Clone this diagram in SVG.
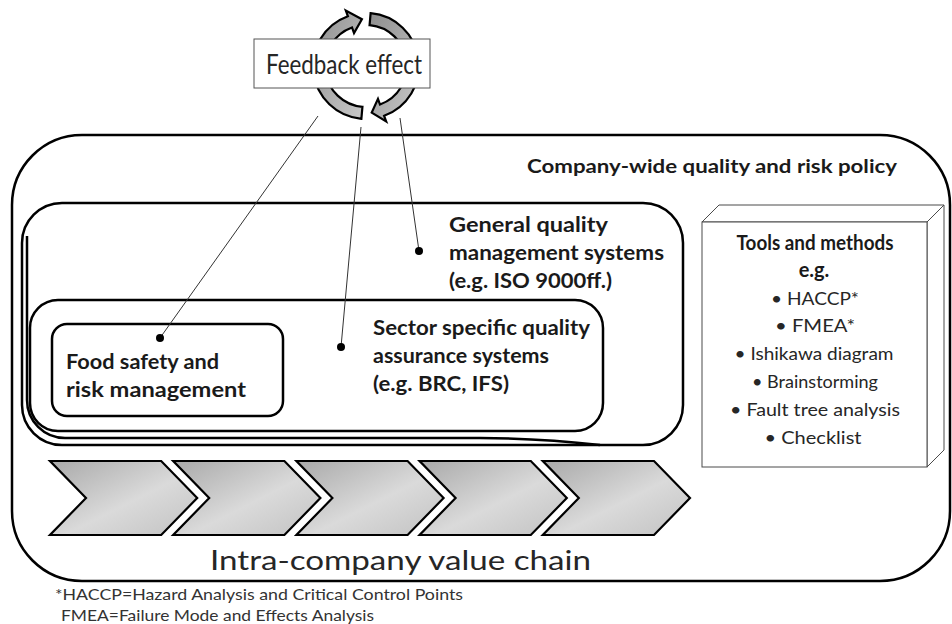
<svg xmlns="http://www.w3.org/2000/svg" width="952" height="624" viewBox="0 0 952 624">
  <defs>
    <linearGradient id="chevFill" x1="0" y1="0" x2="1" y2="1">
      <stop offset="0" stop-color="#a9a9a9"/>
      <stop offset="0.55" stop-color="#dadada"/>
      <stop offset="1" stop-color="#c2c2c2"/>
    </linearGradient>
    <linearGradient id="cycleFill" x1="0" y1="0" x2="1" y2="1">
      <stop offset="0" stop-color="#8e8e8e"/>
      <stop offset="1" stop-color="#c9c9c9"/>
    </linearGradient>
    <style>
      .frame { fill: none; stroke: #000; stroke-width: 2.5; }
      .inner { fill: #fff; stroke: #000; stroke-width: 2.5; }
      .chev { fill: url(#chevFill); stroke: #000; stroke-width: 2.2; stroke-linejoin: miter; }
      .cycle { fill: url(#cycleFill); stroke: #000; stroke-width: 2.2; stroke-linejoin: miter; }
      .box3d { fill: #fff; stroke: #4a4a4a; stroke-width: 1; }
      .link { fill: none; stroke: #333; stroke-width: 1; }
      .dot { fill: #000; }
      text { font-family: Lato, "Liberation Sans", sans-serif; fill: #1a1a1a; }
      .b { font-weight: bold; }
      .head { font-size: 20px; font-weight: bold; }
      .item { font-size: 18px; fill: #262626; }
      .big { font-size: 26px; fill: #262626; }
      .note { font-size: 15px; fill: #333; }
    </style>
  </defs>

  <!-- company-wide frame -->
  <g id="company">
    <rect class="frame" x="12" y="135" width="938" height="446" rx="70" ry="70"/>
    <text class="b" x="527" y="173" font-size="19" textLength="370" lengthAdjust="spacingAndGlyphs">Company-wide quality and risk policy</text>
  </g>

  <!-- general quality management systems -->
  <g id="general">
    <rect class="inner" x="22" y="203" width="661" height="242" rx="40" ry="40"/>
    <path class="frame" d="M27 236 L27 400 A38 38 0 0 0 65 438 L480 438 Q540 438 600 445"/>
    <text class="head" x="449" y="232" textLength="159" lengthAdjust="spacingAndGlyphs">General quality</text>
    <text class="head" x="449" y="260" textLength="215" lengthAdjust="spacingAndGlyphs">management systems</text>
    <text class="head" x="449" y="288" textLength="163" lengthAdjust="spacingAndGlyphs">(e.g. ISO 9000ff.)</text>
  </g>

  <!-- sector specific quality assurance systems -->
  <g id="sector">
    <rect class="inner" x="30" y="300" width="573" height="131" rx="28" ry="28"/>
    <text class="head" x="373" y="335" textLength="217" lengthAdjust="spacingAndGlyphs">Sector specific quality</text>
    <text class="head" x="373" y="363" textLength="176" lengthAdjust="spacingAndGlyphs">assurance systems</text>
    <text class="head" x="373" y="391" textLength="136" lengthAdjust="spacingAndGlyphs">(e.g. BRC, IFS)</text>
  </g>

  <!-- food safety and risk management -->
  <g id="food">
    <rect class="inner" x="52" y="324" width="231" height="92" rx="15" ry="15"/>
    <text class="head" x="66" y="369" textLength="153" lengthAdjust="spacingAndGlyphs">Food safety and</text>
    <text class="head" x="66" y="397" textLength="180" lengthAdjust="spacingAndGlyphs">risk management</text>
  </g>

  <!-- tools and methods block -->
  <g id="tools">
    <polygon class="box3d" points="702,222 719,205 944,205 927,222"/>
    <polygon class="box3d" points="927,222 944,205 944,450 927,467"/>
    <rect class="box3d" x="702" y="222" width="225" height="245"/>
    <g text-anchor="middle">
      <text class="head" x="815" y="250" textLength="157" lengthAdjust="spacingAndGlyphs">Tools and methods</text>
      <text class="head" x="814" y="277">e.g.</text>
      <text class="item" x="815" y="305" textLength="88" lengthAdjust="spacingAndGlyphs">• HACCP*</text>
      <text class="item" x="815" y="332" textLength="80" lengthAdjust="spacingAndGlyphs">• FMEA*</text>
      <text class="item" x="814" y="360" textLength="159" lengthAdjust="spacingAndGlyphs">• Ishikawa diagram</text>
      <text class="item" x="815" y="388" textLength="126" lengthAdjust="spacingAndGlyphs">• Brainstorming</text>
      <text class="item" x="815" y="416" textLength="170" lengthAdjust="spacingAndGlyphs">• Fault tree analysis</text>
      <text class="item" x="813" y="444" textLength="97" lengthAdjust="spacingAndGlyphs">• Checklist</text>
    </g>
  </g>

  <!-- value chain -->
  <g id="value-chain">
    <polygon class="chev" points="50,461 161.2,461 197.2,498 161.2,535 50,535 86,498"/>
    <polygon class="chev" points="173.2,461 284.4,461 320.4,498 284.4,535 173.2,535 209.2,498"/>
    <polygon class="chev" points="296.4,461 407.6,461 443.6,498 407.6,535 296.4,535 332.4,498"/>
    <polygon class="chev" points="419.6,461 530.8,461 566.8,498 530.8,535 419.6,535 455.6,498"/>
    <polygon class="chev" points="542.8,461 654,461 690,498 654,535 542.8,535 578.8,498"/>
    <text class="big" x="210" y="570" textLength="381" lengthAdjust="spacingAndGlyphs">Intra-company value chain</text>
  </g>

  <!-- feedback cycle -->
  <g id="feedback">
    <path class="cycle" d="M361.38 118.80 A53 53 0 0 1 347.87 16.20 L345.82 10.56 L361.90 19.18 L354.03 33.11 L351.98 27.47 A41 41 0 0 0 362.43 106.84 Z"/>
    <path class="cycle" d="M370.62 13.20 A53 53 0 0 1 384.13 115.80 L386.18 121.44 L371.73 112.65 L377.97 98.89 L380.02 104.53 A41 41 0 0 0 369.57 25.16 Z"/>
    <rect x="254" y="39" width="176" height="49" fill="#fff" stroke="#555" stroke-width="1"/>
    <text class="big" x="266" y="74" font-size="27" textLength="156" lengthAdjust="spacingAndGlyphs">Feedback effect</text>
  </g>

  <!-- connectors from the feedback cycle to each level -->
  <g id="connectors">
    <line class="link" x1="318" y1="116" x2="160" y2="338"/>
    <line class="link" x1="361" y1="127" x2="341" y2="347"/>
    <line class="link" x1="400" y1="118" x2="419" y2="251"/>
    <circle class="dot" cx="160" cy="338" r="4"/>
    <circle class="dot" cx="341" cy="347" r="4"/>
    <circle class="dot" cx="419" cy="251" r="4"/>
  </g>

  <!-- footnote -->
  <g id="footnote">
    <text class="note" x="55" y="600" textLength="408" lengthAdjust="spacingAndGlyphs">*HACCP=Hazard Analysis and Critical Control Points</text>
    <text class="note" x="61" y="621" textLength="313" lengthAdjust="spacingAndGlyphs">FMEA=Failure Mode and Effects Analysis</text>
  </g>
</svg>
